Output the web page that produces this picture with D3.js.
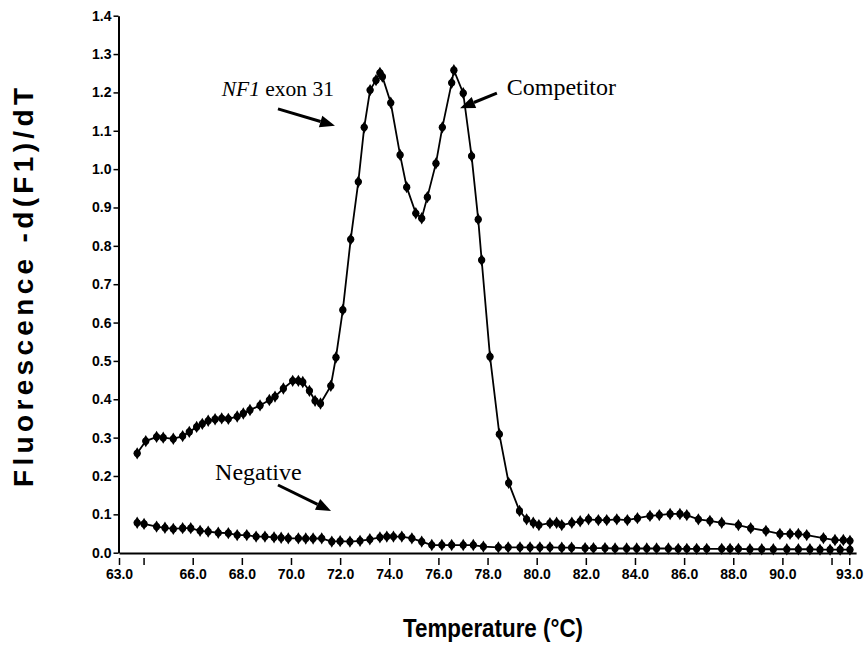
<!DOCTYPE html>
<html>
<head>
<meta charset="utf-8">
<script src="https://cdn.jsdelivr.net/npm/d3@7"></script>
<style>
  body { margin: 0; background: #fff; }
  svg { display: block; }
  .tick text { font-family: "Liberation Sans", Arial, sans-serif; font-size: 14px; font-weight: bold; fill: #000; }
  .tick line, .domain { stroke: #000; }
  .title { font-family: "Liberation Sans", Arial, sans-serif; font-weight: bold; fill: #000; }
  .note { font-family: "Liberation Serif", "Times New Roman", serif; fill: #000; }
</style>
</head>
<body>
<div id="chart"></div>
<script>
// melting curve, sample with NF1 exon 31 + competitor
var sampleT = [63.74, 64.09, 64.53, 64.80, 65.21, 65.59, 65.86, 66.16, 66.39, 66.63, 66.91, 67.18, 67.45, 67.81,
  68.06, 68.33, 68.74, 69.12, 69.35, 69.69, 70.07, 70.30, 70.48, 70.75, 70.98, 71.20, 71.62, 71.83, 72.11,
  72.43, 72.74, 72.98, 73.22, 73.46, 73.62, 73.72, 74.06, 74.44, 74.71, 75.08, 75.32, 75.55, 75.90, 76.16,
  76.54, 76.63, 77.01, 77.35, 77.62, 77.76, 78.10, 78.48, 78.86, 79.30, 79.59, 79.86, 80.09, 80.54, 80.81,
  81.02, 81.43, 81.77, 82.11, 82.51, 82.85, 83.26, 83.69, 84.10, 84.61, 84.99, 85.43, 85.83, 86.11, 86.58,
  87.05, 87.53, 88.21, 88.71, 89.33, 89.90, 90.31, 90.65, 90.99, 91.67, 92.14, 92.48, 92.75];
var sampleV = [0.259, 0.291, 0.302, 0.300, 0.297, 0.304, 0.315, 0.328, 0.336, 0.344, 0.348, 0.350, 0.349, 0.355,
  0.363, 0.372, 0.384, 0.398, 0.407, 0.428, 0.448, 0.448, 0.445, 0.422, 0.396, 0.389, 0.435, 0.509, 0.633,
  0.817, 0.967, 1.109, 1.206, 1.232, 1.251, 1.241, 1.173, 1.037, 0.953, 0.885, 0.872, 0.927, 1.015, 1.109,
  1.225, 1.258, 1.198, 1.034, 0.869, 0.763, 0.511, 0.309, 0.182, 0.109, 0.087, 0.078, 0.072, 0.077, 0.078,
  0.072, 0.078, 0.082, 0.087, 0.085, 0.085, 0.087, 0.085, 0.090, 0.096, 0.098, 0.101, 0.101, 0.098, 0.087,
  0.083, 0.078, 0.072, 0.064, 0.057, 0.049, 0.049, 0.049, 0.046, 0.038, 0.033, 0.033, 0.031];

// negative control
var negT = [63.74, 64.02, 64.53, 64.87, 65.21, 65.59, 65.92, 66.30, 66.63, 67.04, 67.45, 67.81, 68.20, 68.58,
  68.94, 69.31, 69.60, 69.89, 70.30, 70.60, 70.90, 71.25, 71.66, 72.00, 72.40, 72.81, 73.21, 73.62, 73.90,
  74.17, 74.51, 74.92, 75.32, 75.73, 76.14, 76.54, 77.01, 77.42, 77.83, 78.44, 78.84, 79.32, 79.73, 80.13,
  80.54, 81.02, 81.42, 81.97, 82.31, 82.78, 83.19, 83.66, 84.07, 84.48, 84.88, 85.36, 85.76, 86.11, 86.51,
  86.92, 87.53, 87.87, 88.21, 88.68, 89.16, 89.63, 90.18, 90.65, 91.12, 91.53, 91.94, 92.35, 92.75];
var negV = [0.078, 0.075, 0.068, 0.065, 0.062, 0.064, 0.064, 0.057, 0.055, 0.052, 0.051, 0.046, 0.046, 0.042,
  0.042, 0.040, 0.039, 0.0375, 0.0375, 0.037, 0.037, 0.0375, 0.029, 0.030, 0.029, 0.031, 0.035, 0.040, 0.042,
  0.042, 0.042, 0.0375, 0.029, 0.020, 0.020, 0.020, 0.020, 0.020, 0.016, 0.014, 0.014, 0.014, 0.014, 0.014,
  0.014, 0.013, 0.013, 0.012, 0.012, 0.012, 0.011, 0.011, 0.011, 0.011, 0.011, 0.011, 0.010, 0.010, 0.010,
  0.010, 0.010, 0.010, 0.010, 0.009, 0.009, 0.009, 0.009, 0.009, 0.009, 0.008, 0.008, 0.008, 0.008];

// axis ticks
var yTicks = [0.0, 0.1, 0.2, 0.3, 0.4, 0.5, 0.6, 0.7, 0.8, 0.9, 1.0, 1.1, 1.2, 1.3, 1.4];
var xTicks = [63, 64, 66, 68, 70, 72, 74, 76, 78, 80, 82, 84, 86, 88, 90, 92, 92.72];
var xTickLabels = ["63.0", "", "66.0", "68.0", "70.0", "72.0", "74.0", "76.0", "78.0", "80.0",
  "82.0", "84.0", "86.0", "88.0", "90.0", "", "93.0"];

var width = 865, height = 645;

var svg = d3.select("#chart").append("svg")
    .attr("width", width)
    .attr("height", height);

var x = d3.scaleLinear().domain([63, 93]).range([119, 856.1]);
var y = d3.scaleLinear().domain([0, 1.4]).range([552.7, 15.7]);

// y axis
svg.append("g")
    .attr("transform", "translate(118.5,0)")
    .call(d3.axisLeft(y).tickValues(yTicks).tickFormat(d3.format(".1f")).tickSize(5).tickSizeOuter(0).tickPadding(2))
    .call(g => g.select(".domain").attr("stroke-width", 2))
    .call(g => g.selectAll(".tick line").attr("stroke-width", 1.5));

// x axis line
svg.append("g")
    .attr("transform", "translate(0,553)")
    .call(d3.axisBottom(x).tickValues([]).tickSizeOuter(0))
    .call(g => g.select(".domain").attr("stroke-width", 2));

// x ticks sit a little below the line
svg.append("g")
    .attr("transform", "translate(0,558)")
    .call(d3.axisBottom(x).tickValues(xTicks).tickFormat((d, i) => xTickLabels[i]).tickSize(7).tickPadding(4))
    .call(g => g.select(".domain").remove())
    .call(g => g.selectAll(".tick line").attr("stroke-width", 1.5));

// axis titles
svg.append("text")
    .attr("class", "title")
    .attr("transform", "translate(33,287.5) rotate(-90)")
    .attr("text-anchor", "middle")
    .attr("font-size", 28)
    .attr("textLength", 399)
    .attr("lengthAdjust", "spacing")
    .text("Fluorescence -d(F1)/dT");

svg.append("text")
    .attr("class", "title")
    .attr("x", 493)
    .attr("y", 637)
    .attr("text-anchor", "middle")
    .attr("font-size", 26)
    .attr("textLength", 180)
    .attr("lengthAdjust", "spacingAndGlyphs")
    .text("Temperature (\u00B0C)");

var line = d3.line()
    .x(d => x(d[0]))
    .y(d => y(d[1]));

var series = [d3.zip(sampleT, sampleV), d3.zip(negT, negV)];

series.forEach(function(pts) {
  svg.append("path")
      .datum(pts)
      .attr("fill", "none")
      .attr("stroke", "#000")
      .attr("stroke-width", 1.8)
      .attr("d", line);

  var m = svg.append("g").selectAll("g")
      .data(pts)
    .enter().append("g")
      .attr("transform", d => "translate(" + x(d[0]) + "," + y(d[1]) + ")");
  m.append("path")
      .attr("d", d3.symbol().type(d3.symbolDiamond).size(44))
      .attr("fill", "#000");
  m.append("circle")
      .attr("r", 3.6)
      .attr("fill", "#000");
});

// annotations (positions in data units)
var notes = [
  {t: 67.18, v: 1.191, size: 21.5, parts: [["NF1", "italic"], [" exon 31", "normal"]], from: [69.47, 1.157], to: [71.79, 1.113]},
  {t: 78.78, v: 1.193, size: 24, parts: [["Competitor", "normal"]], from: [78.38, 1.198], to: [76.88, 1.159]},
  {t: 66.91, v: 0.1895, size: 24, parts: [["Negative", "normal"]], from: [69.47, 0.1765], to: [71.63, 0.1087]}
];

notes.forEach(function(n) {
  var t = svg.append("text")
      .attr("class", "note")
      .attr("x", x(n.t))
      .attr("y", y(n.v))
      .attr("font-size", n.size);
  n.parts.forEach(function(p) {
    t.append("tspan").attr("font-style", p[1]).text(p[0]);
  });

  // arrow: shaft + filled head
  var x0 = x(n.from[0]), y0 = y(n.from[1]), x1 = x(n.to[0]), y1 = y(n.to[1]);
  var ang = Math.atan2(y1 - y0, x1 - x0);
  var hl = 15, hw = 6;
  var bx = x1 - hl * Math.cos(ang), by = y1 - hl * Math.sin(ang);
  svg.append("line")
      .attr("x1", x0).attr("y1", y0)
      .attr("x2", bx).attr("y2", by)
      .attr("stroke", "#000")
      .attr("stroke-width", 3);
  svg.append("path")
      .attr("d", "M" + x1 + "," + y1 +
        "L" + (bx + hw * Math.sin(ang)) + "," + (by - hw * Math.cos(ang)) +
        "L" + (bx - hw * Math.sin(ang)) + "," + (by + hw * Math.cos(ang)) + "Z")
      .attr("fill", "#000");
});
</script>
</body>
</html>
